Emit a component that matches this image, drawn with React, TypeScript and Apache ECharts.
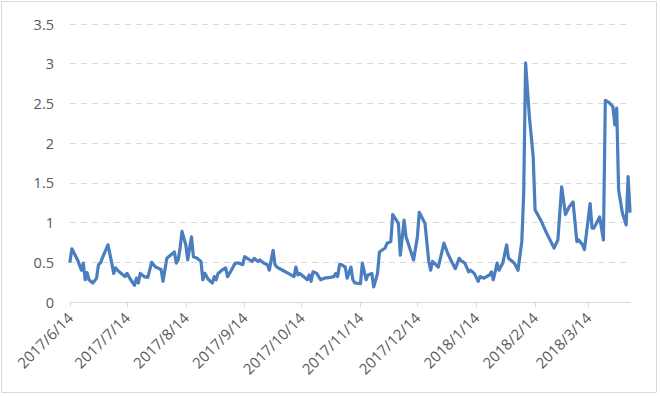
import React, { useEffect, useRef } from "react";
import * as echarts from "echarts";

const dates: string[] = [
  "2017-06-14","2017-06-15","2017-06-18","2017-06-20","2017-06-21","2017-06-22","2017-06-23","2017-06-24","2017-06-26","2017-06-28",
  "2017-06-29","2017-06-30","2017-07-02","2017-07-04","2017-07-06","2017-07-07","2017-07-08","2017-07-09","2017-07-11","2017-07-13",
  "2017-07-14","2017-07-15","2017-07-16","2017-07-18","2017-07-19","2017-07-20","2017-07-21","2017-07-23","2017-07-25","2017-07-27",
  "2017-07-29","2017-08-01","2017-08-02","2017-08-04","2017-08-07","2017-08-08","2017-08-09","2017-08-10","2017-08-11","2017-08-12",
  "2017-08-14","2017-08-15","2017-08-17","2017-08-18","2017-08-20","2017-08-22","2017-08-23","2017-08-24","2017-08-26","2017-08-28",
  "2017-08-29","2017-08-30","2017-08-31","2017-09-02","2017-09-04","2017-09-05","2017-09-07","2017-09-09","2017-09-11","2017-09-13",
  "2017-09-14","2017-09-16","2017-09-18","2017-09-19","2017-09-21","2017-09-22","2017-09-24","2017-09-26","2017-09-27","2017-09-28",
  "2017-09-29","2017-09-30","2017-10-01","2017-10-04","2017-10-07","2017-10-10","2017-10-11","2017-10-12","2017-10-13","2017-10-15",
  "2017-10-17","2017-10-18","2017-10-19","2017-10-20","2017-10-22","2017-10-24","2017-10-26","2017-10-29","2017-10-31","2017-11-01",
  "2017-11-02","2017-11-03","2017-11-04","2017-11-06","2017-11-07","2017-11-09","2017-11-10","2017-11-11","2017-11-14","2017-11-15",
  "2017-11-17","2017-11-18","2017-11-20","2017-11-21","2017-11-23","2017-11-24","2017-11-27","2017-11-28","2017-11-30","2017-12-01",
  "2017-12-04","2017-12-05","2017-12-07","2017-12-08","2017-12-12","2017-12-14","2017-12-15","2017-12-18","2017-12-20","2017-12-21",
  "2017-12-22","2017-12-25","2017-12-28","2017-12-30","2018-01-01","2018-01-03","2018-01-05","2018-01-06","2018-01-08","2018-01-10",
  "2018-01-11","2018-01-13","2018-01-15","2018-01-16","2018-01-18","2018-01-21","2018-01-22","2018-01-23","2018-01-25","2018-01-26",
  "2018-01-28","2018-01-30","2018-01-31","2018-02-03","2018-02-05","2018-02-07","2018-02-08","2018-02-09","2018-02-11","2018-02-13",
  "2018-02-14","2018-02-17","2018-02-20","2018-02-24","2018-02-26","2018-02-28","2018-03-02","2018-03-04","2018-03-06","2018-03-08",
  "2018-03-09","2018-03-11","2018-03-12","2018-03-15","2018-03-16","2018-03-17","2018-03-20","2018-03-22","2018-03-23","2018-03-25",
  "2018-03-27","2018-03-28","2018-03-29","2018-03-30","2018-04-01","2018-04-03","2018-04-04","2018-04-05",
];

const values: number[] = [
  0.51,0.67,0.53,0.40,0.49,0.28,0.37,0.28,0.24,0.30,
  0.47,0.49,0.61,0.72,0.49,0.36,0.43,0.40,0.36,0.32,
  0.36,0.32,0.28,0.21,0.30,0.24,0.36,0.32,0.31,0.50,
  0.44,0.41,0.26,0.55,0.61,0.63,0.49,0.53,0.68,0.89,
  0.72,0.53,0.82,0.57,0.55,0.51,0.28,0.36,0.28,0.24,
  0.32,0.28,0.36,0.40,0.43,0.32,0.40,0.49,0.49,0.47,
  0.57,0.54,0.51,0.55,0.51,0.53,0.49,0.47,0.40,0.53,
  0.65,0.47,0.44,0.40,0.36,0.32,0.44,0.34,0.36,0.32,
  0.28,0.34,0.26,0.38,0.36,0.28,0.30,0.31,0.32,0.36,
  0.32,0.47,0.47,0.44,0.30,0.44,0.28,0.24,0.23,0.49,
  0.28,0.34,0.36,0.19,0.36,0.63,0.68,0.74,0.76,1.10,
  0.99,0.59,1.03,0.82,0.53,0.82,1.13,0.99,0.51,0.40,
  0.51,0.44,0.74,0.61,0.51,0.42,0.55,0.52,0.49,0.38,
  0.40,0.36,0.26,0.32,0.30,0.34,0.38,0.28,0.49,0.40,
  0.49,0.72,0.55,0.49,0.40,0.76,1.37,3.01,2.33,1.83,
  1.16,1.03,0.87,0.68,0.78,1.45,1.10,1.20,1.26,0.76,
  0.78,0.72,0.66,1.24,0.93,0.93,1.07,0.78,2.54,2.51,
  2.46,2.23,2.44,1.41,1.12,0.97,1.58,1.14,
];

const tickDates: string[] = [
  "2017-06-14","2017-07-14","2017-08-14","2017-09-14","2017-10-14","2017-11-14",
  "2017-12-14","2018-01-14","2018-02-14","2018-03-14",
];

const yTicks: number[] = [0, 0.5, 1, 1.5, 2, 2.5, 3, 3.5];

const toTs = (s: string) => {
  const [y, m, d] = s.split("-").map(Number);
  return Date.UTC(y, m - 1, d);
};

export default function App() {
  const ref = useRef<HTMLDivElement>(null);
  useEffect(() => {
    if (!ref.current) return;
    const chart = echarts.init(ref.current, null, { renderer: "svg" });
    const tickTs = tickDates.map(toTs);
    const fmt = (v: number) => {
      const d = new Date(v);
      return `${d.getUTCFullYear()}/${d.getUTCMonth() + 1}/${d.getUTCDate()}`;
    };
    chart.setOption({
      animation: false,
      backgroundColor: "#ffffff",
      textStyle: { fontFamily: "Open Sans" },
      grid: { left: 70, right: 30, top: 24, bottom: 94, containLabel: false, outerBoundsMode: "none" } as any,
      xAxis: {
        type: "value",
        min: toTs(dates[0]),
        max: toTs(dates[dates.length - 1]),
        axisLine: { show: true, lineStyle: { color: "#d9d9d9", width: 1 } },
        axisTick: { show: true, customValues: tickTs, length: 5, lineStyle: { color: "#d9d9d9" } },
        axisLabel: {
          customValues: tickTs,
          rotate: 45,
          margin: 13,
          color: "#595959",
          fontSize: 15,
          fontFamily: "Open Sans",
          formatter: (v: number) => fmt(v),
          hideOverlap: false,
        },
        splitLine: { show: false },
      } as any,
      yAxis: {
        type: "value",
        min: 0,
        max: 3.5,
        interval: 0.5,
        axisLine: { show: false },
        axisTick: { show: false },
        axisLabel: {
          color: "#595959",
          fontSize: 14.5,
          fontFamily: "Open Sans",
          margin: 16,
          formatter: (v: number) => (yTicks.includes(v) ? String(v) : ""),
        },
        splitLine: { show: true, lineStyle: { color: "#d9d9d9", type: [6, 5], width: 1 } },
      },
      series: [
        {
          type: "line",
          data: dates.map((d, i) => [toTs(d), values[i]]),
          showSymbol: false,
          symbol: "none",
          lineStyle: { color: "#4a7ebf", width: 3.2, join: "round", cap: "round" },
          itemStyle: { color: "#4a7ebf" },
        },
      ],
      graphic: [
        {
          type: "rect",
          shape: { x: 1.5, y: 1.5, width: 655, height: 391 },
          style: { fill: "none", stroke: "#d9d9d9", lineWidth: 1 },
          silent: true,
        },
      ],
    });
    return () => chart.dispose();
  }, []);
  return (
    <div style={{ position: "absolute", left: 0, top: 0, width: 660, height: 396 }}>
      <div ref={ref} style={{ width: 660, height: 396 }} />
    </div>
  );
}
